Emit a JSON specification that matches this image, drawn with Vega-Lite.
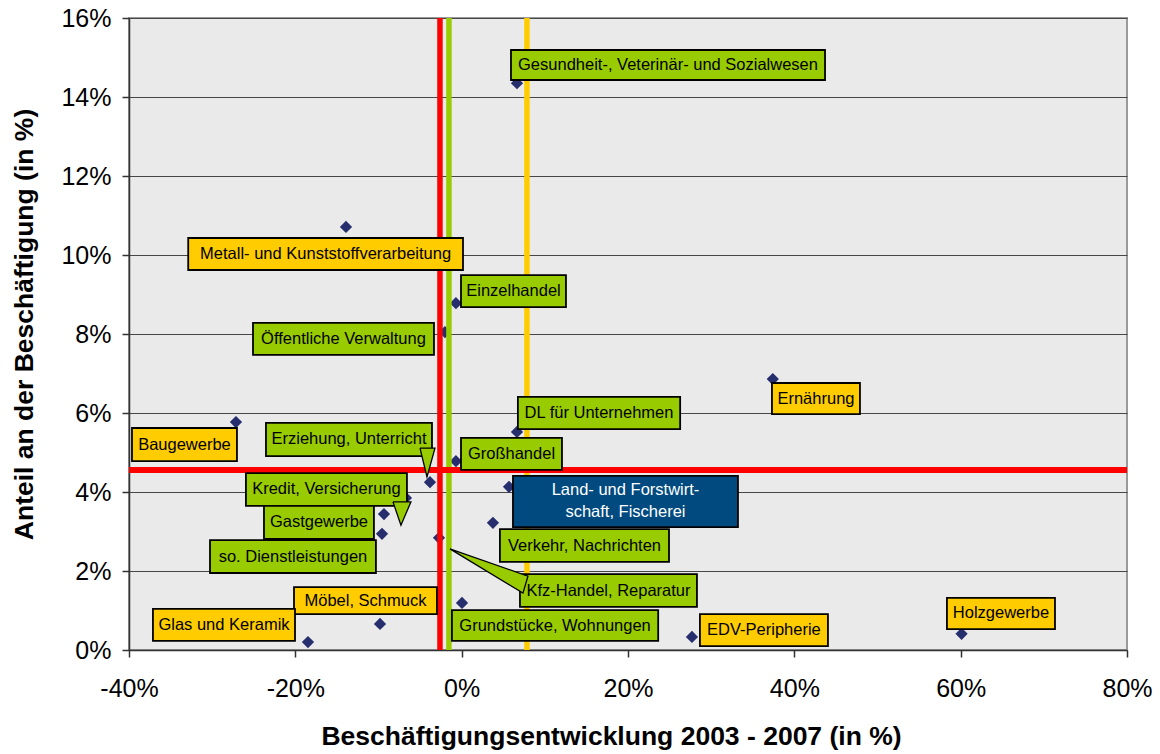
{
  "$schema": "https://vega.github.io/schema/vega-lite/v6.json",
  "width": 998,
  "height": 632,
  "autosize": "none",
  "padding": {"left": 129, "top": 18, "right": 33, "bottom": 104},
  "background": "#FFFFFF",
  "config": {
    "font": "Liberation Sans",
    "view": {"fill": "#EAEAEA", "stroke": "#9A9A9A", "strokeWidth": 2},
    "axis": {
      "labelFont": "Liberation Sans",
      "titleFont": "Liberation Sans",
      "labelColor": "#000000",
      "titleColor": "#000000",
      "domainColor": "#333333",
      "tickColor": "#333333",
      "domainWidth": 1.5,
      "tickWidth": 1.5,
      "tickSize": 7,
      "labelFlush": false,
      "labelOverlap": false
    }
  },
  "datasets": {
    "punkte": [
      {"name": "Gesundheit-, Veterinär- und Sozialwesen", "x": 6.65, "y": 14.35, "farbe": "grün", "bx1": 5.93, "bx2": 43.69, "by1": 14.43, "by2": 15.19},
      {"name": "Metall- und Kunststoffverarbeitung", "x": -13.91, "y": 10.71, "farbe": "gelb", "bx1": -32.88, "bx2": 0.16, "by1": 9.62, "by2": 10.43},
      {"name": "Einzelhandel", "x": -0.69, "y": 8.78, "farbe": "grün", "bx1": -0.08, "bx2": 12.54, "by1": 8.68, "by2": 9.49},
      {"name": "Öffentliche Verwaltung", "x": -2.01, "y": 8.05, "farbe": "grün", "bx1": -25.09, "bx2": -3.33, "by1": 7.47, "by2": 8.28},
      {"name": "Ernährung", "x": 37.41, "y": 6.86, "farbe": "gelb", "bx1": 37.31, "bx2": 47.89, "by1": 5.97, "by2": 6.76},
      {"name": "Baugewerbe", "x": -27.14, "y": 5.77, "farbe": "gelb", "bx1": -39.64, "bx2": -27.02, "by1": 4.78, "by2": 5.62},
      {"name": "DL für Unternehmen", "x": 6.65, "y": 5.52, "farbe": "grün", "bx1": 6.76, "bx2": 26.27, "by1": 5.59, "by2": 6.41},
      {"name": "Großhandel", "x": -0.69, "y": 4.78, "farbe": "grün", "bx1": -0.08, "bx2": 12.06, "by1": 4.56, "by2": 5.37},
      {"name": "Erziehung, Unterricht", "x": -3.81, "y": 4.25, "farbe": "grün", "bx1": -23.53, "bx2": -3.57, "by1": 4.91, "by2": 5.75},
      {"name": "Land- und Forstwirt-\nschaft, Fischerei", "x": 5.69, "y": 4.13, "farbe": "blau", "bx1": 6.17, "bx2": 33.22, "by1": 3.11, "by2": 4.41},
      {"name": "Kredit, Versicherung", "x": -6.7, "y": 3.85, "farbe": "grün", "bx1": -25.94, "bx2": -6.58, "by1": 3.65, "by2": 4.48},
      {"name": "Gastgewerbe", "x": -9.34, "y": 3.44, "farbe": "grün", "bx1": -23.77, "bx2": -10.55, "by1": 2.81, "by2": 3.65},
      {"name": "so. Dienstleistungen", "x": -9.58, "y": 2.94, "farbe": "grün", "bx1": -30.26, "bx2": -10.31, "by1": 1.95, "by2": 2.78},
      {"name": "Verkehr, Nachrichten", "x": 3.76, "y": 3.22, "farbe": "grün", "bx1": 4.6, "bx2": 24.93, "by1": 2.23, "by2": 3.06},
      {"name": "Kfz-Handel, Reparatur", "x": -2.73, "y": 2.84, "farbe": "grün", "bx1": 7.01, "bx2": 28.29, "by1": 1.09, "by2": 1.92},
      {"name": "Grundstücke, Wohnungen", "x": 0.04, "y": 1.19, "farbe": "grün", "bx1": -1.17, "bx2": 23.63, "by1": 0.23, "by2": 1.01},
      {"name": "Möbel, Schmuck", "x": -9.82, "y": 0.66, "farbe": "gelb", "bx1": -20.16, "bx2": -2.97, "by1": 0.91, "by2": 1.59},
      {"name": "Glas und Keramik", "x": -18.48, "y": 0.2, "farbe": "gelb", "bx1": -37.12, "bx2": -20.04, "by1": 0.23, "by2": 1.04},
      {"name": "EDV-Peripherie", "x": 27.69, "y": 0.33, "farbe": "gelb", "bx1": 28.65, "bx2": 44.04, "by1": 0.1, "by2": 0.91},
      {"name": "Holzgewerbe", "x": 60.11, "y": 0.41, "farbe": "gelb", "bx1": 58.35, "bx2": 71.34, "by1": 0.53, "by2": 1.32}
    ],
    "senkrechte": [
      {"x": -2.61, "farbe": "rot"},
      {"x": -1.53, "farbe": "grün"},
      {"x": 7.85, "farbe": "gelb"}
    ],
    "waagerechte": [
      {"y": 4.56, "farbe": "rot"}
    ],
    "zeiger": [
      {"id": "Erziehung", "i": 0, "x": -5.01, "y": 5.11},
      {"id": "Erziehung", "i": 1, "x": -3.21, "y": 5.11},
      {"id": "Erziehung", "i": 2, "x": -4.17, "y": 4.38},
      {"id": "Erziehung", "i": 3, "x": -5.01, "y": 5.11},
      {"id": "Kredit", "i": 0, "x": -8.26, "y": 3.75},
      {"id": "Kredit", "i": 1, "x": -6.1, "y": 3.75},
      {"id": "Kredit", "i": 2, "x": -7.3, "y": 3.16},
      {"id": "Kredit", "i": 3, "x": -8.26, "y": 3.75},
      {"id": "Kfz", "i": 0, "x": -1.41, "y": 2.56},
      {"id": "Kfz", "i": 1, "x": 7.97, "y": 1.87},
      {"id": "Kfz", "i": 2, "x": 7.37, "y": 1.44},
      {"id": "Kfz", "i": 3, "x": -1.41, "y": 2.56}
    ]
  },
  "layer": [
    {
      "data": {"name": "punkte"},
      "mark": {"type": "point", "shape": "diamond", "filled": true, "size": 150, "color": "#262E6E", "opacity": 1},
      "encoding": {
        "x": {
          "field": "x", "type": "quantitative",
          "scale": {"domain": [-40, 80], "nice": false, "zero": false},
          "axis": {
            "values": [-40, -20, 0, 20, 40, 60, 80],
            "labelExpr": "datum.value + '%'",
            "grid": false,
            "labelFontSize": 25,
            "labelBaseline": "alphabetic",
            "labelPadding": 39,
            "title": "Beschäftigungsentwicklung 2003 - 2007 (in %)",
            "titleFontSize": 26.5,
            "titleFontWeight": "bold",
            "titleX": 482,
            "titleY": 94,
            "titleAlign": "center",
            "titleBaseline": "alphabetic"
          }
        },
        "y": {
          "field": "y", "type": "quantitative",
          "scale": {"domain": [0, 16], "nice": false, "zero": false},
          "axis": {
            "values": [0, 2, 4, 6, 8, 10, 12, 14, 16],
            "labelExpr": "datum.value + '%'",
            "grid": true,
            "gridColor": "#474747",
            "gridWidth": 1,
            "labelFontSize": 25,
            "labelPadding": 11,
            "title": "Anteil an der Beschäftigung (in %)",
            "titleFontSize": 26.5,
            "titleFontWeight": "bold",
            "titleAngle": -90,
            "titleX": -97,
            "titleY": 306,
            "titleAlign": "center",
            "titleBaseline": "alphabetic"
          }
        }
      }
    },
    {
      "data": {"name": "senkrechte"},
      "mark": {"type": "rule", "strokeWidth": 5.5},
      "encoding": {
        "x": {"field": "x", "type": "quantitative"},
        "color": {"field": "farbe", "type": "nominal", "scale": {"domain": ["grün", "gelb", "blau", "rot"], "range": ["#99CC00", "#FFCC00", "#004A7F", "#FF0000"]}, "legend": null}
      }
    },
    {
      "data": {"name": "waagerechte"},
      "mark": {"type": "rule", "strokeWidth": 6},
      "encoding": {
        "y": {"field": "y", "type": "quantitative"},
        "color": {"field": "farbe", "type": "nominal", "scale": {"domain": ["grün", "gelb", "blau", "rot"], "range": ["#99CC00", "#FFCC00", "#004A7F", "#FF0000"]}, "legend": null}
      }
    },
    {
      "data": {"name": "punkte"},
      "mark": {"type": "rect", "stroke": "#000000", "strokeWidth": 1.8},
      "encoding": {
        "x": {"field": "bx1", "type": "quantitative"},
        "x2": {"field": "bx2"},
        "y": {"field": "by1", "type": "quantitative"},
        "y2": {"field": "by2"},
        "color": {"field": "farbe", "type": "nominal", "scale": {"domain": ["grün", "gelb", "blau", "rot"], "range": ["#99CC00", "#FFCC00", "#004A7F", "#FF0000"]}, "legend": null}
      }
    },
    {
      "data": {"name": "zeiger"},
      "mark": {"type": "line", "fill": "#99CC00", "stroke": "#000000", "strokeWidth": 1.3, "strokeJoin": "miter"},
      "encoding": {
        "x": {"field": "x", "type": "quantitative"},
        "y": {"field": "y", "type": "quantitative"},
        "order": {"field": "i", "type": "quantitative"},
        "detail": {"field": "id", "type": "nominal"}
      }
    },
    {
      "data": {"name": "punkte"},
      "transform": [
        {"filter": "datum.farbe !== 'blau'"},
        {"calculate": "(datum.bx1 + datum.bx2) / 2", "as": "tx"},
        {"calculate": "(datum.by1 + datum.by2) / 2", "as": "ty"}
      ],
      "mark": {"type": "text", "fontSize": 16.5, "align": "center", "baseline": "middle", "color": "#000000"},
      "encoding": {
        "x": {"field": "tx", "type": "quantitative"},
        "y": {"field": "ty", "type": "quantitative"},
        "text": {"field": "name", "type": "nominal"}
      }
    },
    {
      "data": {"name": "punkte"},
      "transform": [
        {"filter": "datum.farbe === 'blau'"},
        {"calculate": "(datum.bx1 + datum.bx2) / 2", "as": "tx"},
        {"calculate": "(datum.by1 + datum.by2) / 2", "as": "ty"}
      ],
      "mark": {"type": "text", "fontSize": 16.5, "align": "center", "baseline": "middle", "lineBreak": "\n", "lineHeight": 22, "dy": -11, "color": "#FFFFFF"},
      "encoding": {
        "x": {"field": "tx", "type": "quantitative"},
        "y": {"field": "ty", "type": "quantitative"},
        "text": {"field": "name", "type": "nominal"}
      }
    }
  ]
}
